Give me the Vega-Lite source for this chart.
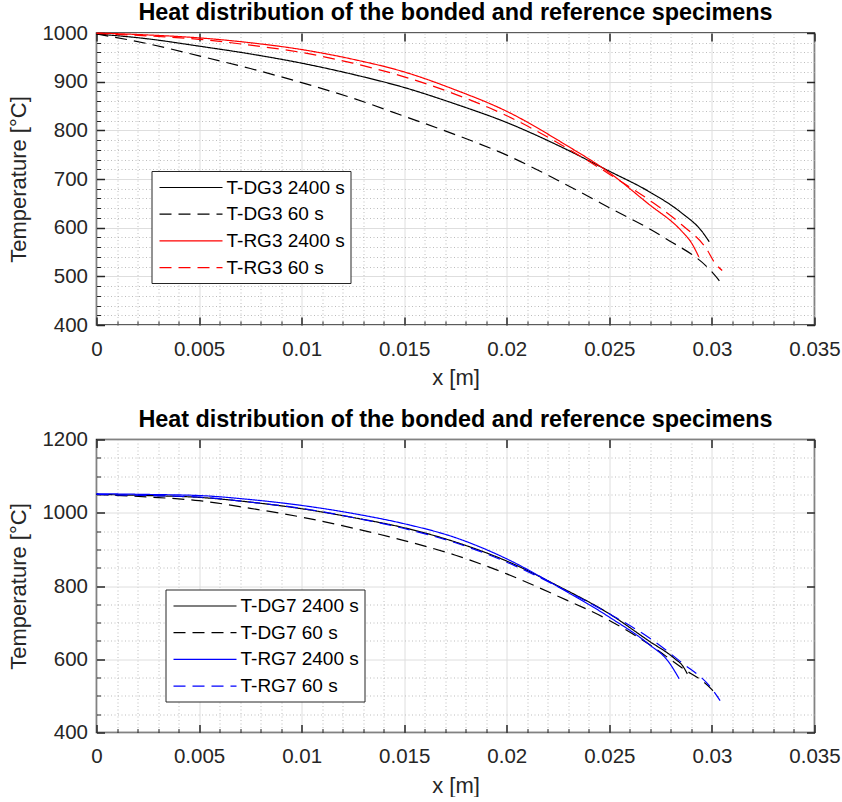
{
  "$schema": "https://vega.github.io/schema/vega-lite/v6.json",
  "background": "white",
  "padding": {"left": 6.5, "top": 0, "right": 5, "bottom": 0},
  "spacing": 16.5,
  "datasets": {
    "top": [
      {"x": 0, "T": 998, "series": "T-DG3 2400 s"},
      {"x": 0.0025, "T": 988, "series": "T-DG3 2400 s"},
      {"x": 0.005, "T": 973, "series": "T-DG3 2400 s"},
      {"x": 0.0075, "T": 957, "series": "T-DG3 2400 s"},
      {"x": 0.01, "T": 938, "series": "T-DG3 2400 s"},
      {"x": 0.0125, "T": 915, "series": "T-DG3 2400 s"},
      {"x": 0.015, "T": 888, "series": "T-DG3 2400 s"},
      {"x": 0.0175, "T": 854, "series": "T-DG3 2400 s"},
      {"x": 0.02, "T": 816, "series": "T-DG3 2400 s"},
      {"x": 0.0225, "T": 769, "series": "T-DG3 2400 s"},
      {"x": 0.025, "T": 716, "series": "T-DG3 2400 s"},
      {"x": 0.0269, "T": 675, "series": "T-DG3 2400 s"},
      {"x": 0.0285, "T": 631, "series": "T-DG3 2400 s"},
      {"x": 0.0295, "T": 593, "series": "T-DG3 2400 s"},
      {"x": 0.02987, "T": 571, "series": "T-DG3 2400 s"},
      {"x": 0, "T": 998, "series": "T-DG3 60 s"},
      {"x": 0.0025, "T": 978, "series": "T-DG3 60 s"},
      {"x": 0.005, "T": 953, "series": "T-DG3 60 s"},
      {"x": 0.0075, "T": 927, "series": "T-DG3 60 s"},
      {"x": 0.01, "T": 898, "series": "T-DG3 60 s"},
      {"x": 0.0125, "T": 866, "series": "T-DG3 60 s"},
      {"x": 0.015, "T": 829, "series": "T-DG3 60 s"},
      {"x": 0.0175, "T": 791, "series": "T-DG3 60 s"},
      {"x": 0.02, "T": 749, "series": "T-DG3 60 s"},
      {"x": 0.0225, "T": 697, "series": "T-DG3 60 s"},
      {"x": 0.025, "T": 641, "series": "T-DG3 60 s"},
      {"x": 0.0277, "T": 579, "series": "T-DG3 60 s"},
      {"x": 0.03, "T": 509, "series": "T-DG3 60 s"},
      {"x": 0.0304, "T": 489, "series": "T-DG3 60 s"},
      {"x": 0, "T": 1000, "series": "T-RG3 2400 s"},
      {"x": 0.0025, "T": 996, "series": "T-RG3 2400 s"},
      {"x": 0.005, "T": 990, "series": "T-RG3 2400 s"},
      {"x": 0.0075, "T": 980, "series": "T-RG3 2400 s"},
      {"x": 0.01, "T": 966, "series": "T-RG3 2400 s"},
      {"x": 0.0125, "T": 946, "series": "T-RG3 2400 s"},
      {"x": 0.015, "T": 920, "series": "T-RG3 2400 s"},
      {"x": 0.0175, "T": 883, "series": "T-RG3 2400 s"},
      {"x": 0.02, "T": 839, "series": "T-RG3 2400 s"},
      {"x": 0.0228, "T": 772, "series": "T-RG3 2400 s"},
      {"x": 0.025, "T": 713, "series": "T-RG3 2400 s"},
      {"x": 0.0269, "T": 649, "series": "T-RG3 2400 s"},
      {"x": 0.0285, "T": 594, "series": "T-RG3 2400 s"},
      {"x": 0.029, "T": 569, "series": "T-RG3 2400 s"},
      {"x": 0.02936, "T": 540, "series": "T-RG3 2400 s"},
      {"x": 0, "T": 999, "series": "T-RG3 60 s"},
      {"x": 0.0025, "T": 994, "series": "T-RG3 60 s"},
      {"x": 0.005, "T": 987, "series": "T-RG3 60 s"},
      {"x": 0.0075, "T": 975, "series": "T-RG3 60 s"},
      {"x": 0.01, "T": 960, "series": "T-RG3 60 s"},
      {"x": 0.0125, "T": 938, "series": "T-RG3 60 s"},
      {"x": 0.015, "T": 910, "series": "T-RG3 60 s"},
      {"x": 0.0175, "T": 874, "series": "T-RG3 60 s"},
      {"x": 0.02, "T": 830, "series": "T-RG3 60 s"},
      {"x": 0.0225, "T": 774, "series": "T-RG3 60 s"},
      {"x": 0.025, "T": 710, "series": "T-RG3 60 s"},
      {"x": 0.0269, "T": 658, "series": "T-RG3 60 s"},
      {"x": 0.0285, "T": 607, "series": "T-RG3 60 s"},
      {"x": 0.0298, "T": 552, "series": "T-RG3 60 s"},
      {"x": 0.0301, "T": 530, "series": "T-RG3 60 s"},
      {"x": 0.0305, "T": 512, "series": "T-RG3 60 s"}
    ],
    "bottom": [
      {"x": 0, "T": 1050, "series": "T-DG7 2400 s"},
      {"x": 0.0025, "T": 1047, "series": "T-DG7 2400 s"},
      {"x": 0.005, "T": 1042, "series": "T-DG7 2400 s"},
      {"x": 0.0075, "T": 1029, "series": "T-DG7 2400 s"},
      {"x": 0.01, "T": 1011, "series": "T-DG7 2400 s"},
      {"x": 0.0125, "T": 987, "series": "T-DG7 2400 s"},
      {"x": 0.015, "T": 959, "series": "T-DG7 2400 s"},
      {"x": 0.0175, "T": 920, "series": "T-DG7 2400 s"},
      {"x": 0.02, "T": 868, "series": "T-DG7 2400 s"},
      {"x": 0.0225, "T": 800, "series": "T-DG7 2400 s"},
      {"x": 0.025, "T": 724, "series": "T-DG7 2400 s"},
      {"x": 0.0269, "T": 651, "series": "T-DG7 2400 s"},
      {"x": 0.0282, "T": 601, "series": "T-DG7 2400 s"},
      {"x": 0.0286, "T": 580, "series": "T-DG7 2400 s"},
      {"x": 0.0288, "T": 560, "series": "T-DG7 2400 s"},
      {"x": 0, "T": 1050, "series": "T-DG7 60 s"},
      {"x": 0.0025, "T": 1043, "series": "T-DG7 60 s"},
      {"x": 0.005, "T": 1033, "series": "T-DG7 60 s"},
      {"x": 0.0075, "T": 1012, "series": "T-DG7 60 s"},
      {"x": 0.01, "T": 988, "series": "T-DG7 60 s"},
      {"x": 0.0125, "T": 958, "series": "T-DG7 60 s"},
      {"x": 0.015, "T": 924, "series": "T-DG7 60 s"},
      {"x": 0.0175, "T": 884, "series": "T-DG7 60 s"},
      {"x": 0.02, "T": 833, "series": "T-DG7 60 s"},
      {"x": 0.0225, "T": 772, "series": "T-DG7 60 s"},
      {"x": 0.025, "T": 706, "series": "T-DG7 60 s"},
      {"x": 0.0269, "T": 642, "series": "T-DG7 60 s"},
      {"x": 0.0285, "T": 578, "series": "T-DG7 60 s"},
      {"x": 0.03, "T": 517, "series": "T-DG7 60 s"},
      {"x": 0.0303, "T": 497, "series": "T-DG7 60 s"},
      {"x": 0, "T": 1052, "series": "T-RG7 2400 s"},
      {"x": 0.0025, "T": 1050, "series": "T-RG7 2400 s"},
      {"x": 0.005, "T": 1047, "series": "T-RG7 2400 s"},
      {"x": 0.0075, "T": 1036, "series": "T-RG7 2400 s"},
      {"x": 0.01, "T": 1020, "series": "T-RG7 2400 s"},
      {"x": 0.0125, "T": 998, "series": "T-RG7 2400 s"},
      {"x": 0.015, "T": 970, "series": "T-RG7 2400 s"},
      {"x": 0.0175, "T": 932, "series": "T-RG7 2400 s"},
      {"x": 0.02, "T": 874, "series": "T-RG7 2400 s"},
      {"x": 0.0225, "T": 798, "series": "T-RG7 2400 s"},
      {"x": 0.025, "T": 715, "series": "T-RG7 2400 s"},
      {"x": 0.0269, "T": 642, "series": "T-RG7 2400 s"},
      {"x": 0.0279, "T": 592, "series": "T-RG7 2400 s"},
      {"x": 0.0284, "T": 547, "series": "T-RG7 2400 s"},
      {"x": 0, "T": 1050, "series": "T-RG7 60 s"},
      {"x": 0.0025, "T": 1047, "series": "T-RG7 60 s"},
      {"x": 0.005, "T": 1043, "series": "T-RG7 60 s"},
      {"x": 0.0075, "T": 1029, "series": "T-RG7 60 s"},
      {"x": 0.01, "T": 1012, "series": "T-RG7 60 s"},
      {"x": 0.0125, "T": 987, "series": "T-RG7 60 s"},
      {"x": 0.015, "T": 957, "series": "T-RG7 60 s"},
      {"x": 0.0175, "T": 918, "series": "T-RG7 60 s"},
      {"x": 0.02, "T": 865, "series": "T-RG7 60 s"},
      {"x": 0.0225, "T": 798, "series": "T-RG7 60 s"},
      {"x": 0.025, "T": 724, "series": "T-RG7 60 s"},
      {"x": 0.0269, "T": 660, "series": "T-RG7 60 s"},
      {"x": 0.0285, "T": 592, "series": "T-RG7 60 s"},
      {"x": 0.03, "T": 519, "series": "T-RG7 60 s"},
      {"x": 0.0304, "T": 487, "series": "T-RG7 60 s"}
    ]
  },
  "vconcat": [
    {
      "width": 718,
      "height": 292,
      "title": {"text": "Heat distribution of the bonded and reference specimens", "offset": -2.5},
      "data": {"name": "top"},
      "resolve": {"axis": {"x": "independent", "y": "independent"}},
      "layer": [
        {
          "mark": {"type": "line", "opacity": 0},
          "encoding": {
            "x": {"field": "x", "type": "quantitative", "scale": {"domain": [0, 0.035], "nice": false},
              "axis": {"orient": "bottom", "values": [0.001,0.002,0.003,0.004,0.006,0.007,0.008,0.009,0.011,0.012,0.013,0.014,0.016,0.017,0.018,0.019,0.021,0.022,0.023,0.024,0.026,0.027,0.028,0.029,0.031,0.032,0.033,0.034],
                "grid": true, "gridColor": "#bdbdbd", "gridDash": [1, 2.5], "labels": false, "ticks": true, "tickSize": -4, "tickWidth": 1, "domain": false, "title": null}},
            "y": {"field": "T", "type": "quantitative", "scale": {"domain": [400, 1000], "nice": false, "zero": false},
              "axis": {"orient": "left", "values": [420,440,460,480,520,540,560,580,620,640,660,680,720,740,760,780,820,840,860,880,920,940,960,980],
                "grid": true, "gridColor": "#bdbdbd", "gridDash": [1, 2.5], "labels": false, "ticks": true, "tickSize": -4, "tickWidth": 1, "domain": false, "title": null}},
            "detail": {"field": "series"}
          }
        },
        {
          "mark": {"type": "line", "strokeWidth": 1.2, "interpolate": "monotone"},
          "encoding": {
            "x": {"field": "x", "type": "quantitative", "scale": {"domain": [0, 0.035], "nice": false},
              "axis": {"orient": "bottom", "values": [0,0.005,0.01,0.015,0.02,0.025,0.03,0.035], "format": "~g",
                "grid": true, "gridColor": "#dedede", "gridWidth": 1, "tickSize": -8, "labelPadding": 22, "labelFlush": false, "labelOverlap": false, "domain": false, "title": "x [m]", "titlePadding": 8}},
            "y": {"field": "T", "type": "quantitative", "scale": {"domain": [400, 1000], "nice": false, "zero": false},
              "axis": {"orient": "left", "values": [400,500,600,700,800,900,1000], "format": "d",
                "grid": true, "gridColor": "#dedede", "gridWidth": 1, "tickSize": -8, "labelPadding": 17, "labelFlush": false, "labelOverlap": false, "domain": false, "title": "Temperature [°C]", "titlePadding": 11}},
            "color": {"field": "series", "type": "nominal",
              "scale": {"domain": ["T-DG3 2400 s", "T-DG3 60 s", "T-RG3 2400 s", "T-RG3 60 s"], "range": ["#000000", "#000000", "#ff0000", "#ff0000"]},
              "legend": {"orient": "none", "legendX": 55, "legendY": 138, "title": null}},
            "strokeDash": {"field": "series", "type": "nominal",
              "scale": {"domain": ["T-DG3 2400 s", "T-DG3 60 s", "T-RG3 2400 s", "T-RG3 60 s"], "range": [[1, 0], [12, 7], [1, 0], [12, 7]]},
              "legend": {"orient": "none", "legendX": 55, "legendY": 138, "title": null}}
          }
        },
        {
          "mark": {"type": "line", "opacity": 0},
          "encoding": {
            "x": {"field": "x", "type": "quantitative", "scale": {"domain": [0, 0.035], "nice": false},
              "axis": {"orient": "top", "values": [0,0.005,0.01,0.015,0.02,0.025,0.03,0.035], "grid": false, "labels": false, "tickSize": -8, "domain": false, "title": null}},
            "y": {"field": "T", "type": "quantitative", "scale": {"domain": [400, 1000], "nice": false, "zero": false},
              "axis": {"orient": "right", "values": [400,500,600,700,800,900,1000], "grid": false, "labels": false, "tickSize": -8, "domain": false, "title": null}},
            "detail": {"field": "series"}
          }
        }
      ]
    },
    {
      "width": 718,
      "height": 293,
      "title": {"text": "Heat distribution of the bonded and reference specimens", "offset": -2.5},
      "data": {"name": "bottom"},
      "resolve": {"axis": {"x": "independent", "y": "independent"}},
      "layer": [
        {
          "mark": {"type": "line", "opacity": 0},
          "encoding": {
            "x": {"field": "x", "type": "quantitative", "scale": {"domain": [0, 0.035], "nice": false},
              "axis": {"orient": "bottom", "values": [0.001,0.002,0.003,0.004,0.006,0.007,0.008,0.009,0.011,0.012,0.013,0.014,0.016,0.017,0.018,0.019,0.021,0.022,0.023,0.024,0.026,0.027,0.028,0.029,0.031,0.032,0.033,0.034],
                "grid": true, "gridColor": "#bdbdbd", "gridDash": [1, 2.5], "labels": false, "ticks": true, "tickSize": -4, "tickWidth": 1, "domain": false, "title": null}},
            "y": {"field": "T", "type": "quantitative", "scale": {"domain": [400, 1200], "nice": false, "zero": false},
              "axis": {"orient": "left", "values": [450,500,550,650,700,750,850,900,950,1050,1100,1150],
                "grid": true, "gridColor": "#bdbdbd", "gridDash": [1, 2.5], "labels": false, "ticks": true, "tickSize": -4, "tickWidth": 1, "domain": false, "title": null}},
            "detail": {"field": "series"}
          }
        },
        {
          "mark": {"type": "line", "strokeWidth": 1.2, "interpolate": "monotone"},
          "encoding": {
            "x": {"field": "x", "type": "quantitative", "scale": {"domain": [0, 0.035], "nice": false},
              "axis": {"orient": "bottom", "values": [0,0.005,0.01,0.015,0.02,0.025,0.03,0.035], "format": "~g",
                "grid": true, "gridColor": "#dedede", "gridWidth": 1, "tickSize": -8, "labelPadding": 22, "labelFlush": false, "labelOverlap": false, "domain": false, "title": "x [m]", "titlePadding": 8}},
            "y": {"field": "T", "type": "quantitative", "scale": {"domain": [400, 1200], "nice": false, "zero": false},
              "axis": {"orient": "left", "values": [400,600,800,1000,1200], "format": "d",
                "grid": true, "gridColor": "#dedede", "gridWidth": 1, "tickSize": -8, "labelPadding": 17, "labelFlush": false, "labelOverlap": false, "domain": false, "title": "Temperature [°C]", "titlePadding": 11}},
            "color": {"field": "series", "type": "nominal",
              "scale": {"domain": ["T-DG7 2400 s", "T-DG7 60 s", "T-RG7 2400 s", "T-RG7 60 s"], "range": ["#000000", "#000000", "#0000ff", "#0000ff"]},
              "legend": {"orient": "none", "legendX": 69, "legendY": 150, "title": null}},
            "strokeDash": {"field": "series", "type": "nominal",
              "scale": {"domain": ["T-DG7 2400 s", "T-DG7 60 s", "T-RG7 2400 s", "T-RG7 60 s"], "range": [[1, 0], [12, 7], [1, 0], [12, 7]]},
              "legend": {"orient": "none", "legendX": 69, "legendY": 150, "title": null}}
          }
        },
        {
          "mark": {"type": "line", "opacity": 0},
          "encoding": {
            "x": {"field": "x", "type": "quantitative", "scale": {"domain": [0, 0.035], "nice": false},
              "axis": {"orient": "top", "values": [0,0.005,0.01,0.015,0.02,0.025,0.03,0.035], "grid": false, "labels": false, "tickSize": -8, "domain": false, "title": null}},
            "y": {"field": "T", "type": "quantitative", "scale": {"domain": [400, 1200], "nice": false, "zero": false},
              "axis": {"orient": "right", "values": [400,600,800,1000,1200], "grid": false, "labels": false, "tickSize": -8, "domain": false, "title": null}},
            "detail": {"field": "series"}
          }
        }
      ]
    }
  ],
  "resolve": {"scale": {"color": "independent", "strokeDash": "independent"}, "legend": {"color": "independent", "strokeDash": "independent"}},
  "config": {
    "font": "Liberation Sans",
    "view": {"stroke": "#262626", "strokeWidth": 1.5},
    "axis": {
      "labelFont": "Liberation Sans", "labelFontSize": 20.5, "labelColor": "#262626",
      "titleFont": "Liberation Sans", "titleFontSize": 22, "titleFontWeight": "normal", "titleColor": "#262626",
      "tickColor": "#262626", "tickWidth": 1.5
    },
    "title": {"font": "Liberation Sans", "fontSize": 23.4, "fontWeight": "bold", "color": "#000000", "anchor": "middle"},
    "legend": {
      "labelFont": "Liberation Sans", "labelFontSize": 19, "labelColor": "#000000",
      "strokeColor": "#262626", "fillColor": "#ffffff", "padding": 5,
      "symbolType": "M-3,0H3", "symbolSize": 441, "symbolStrokeWidth": 1.2, "symbolOffset": 23, "labelOffset": 24, "rowPadding": 4.7
    }
  }
}
